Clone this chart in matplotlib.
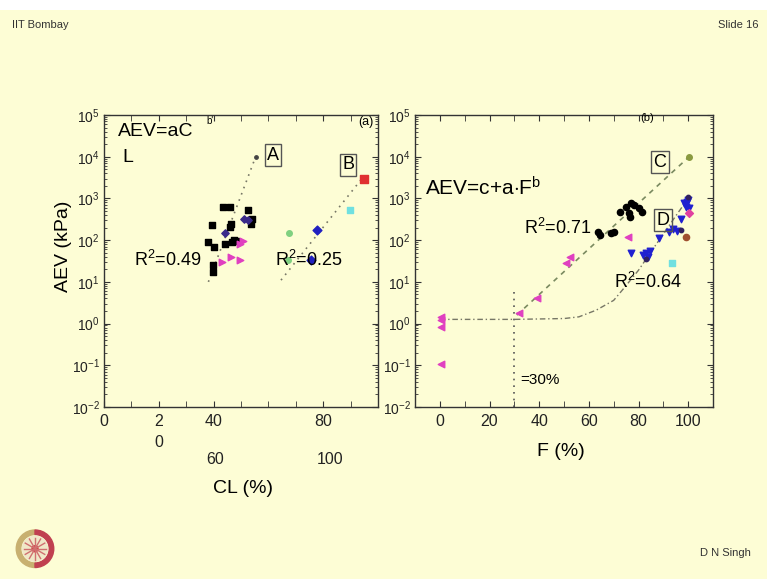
import matplotlib
matplotlib.use("Agg")
import matplotlib.pyplot as plt
from matplotlib.ticker import LogLocator, FixedLocator, NullFormatter
from matplotlib.patches import Rectangle, Circle, Wedge
import numpy as np

plt.rcParams['font.family'] = ['Liberation Sans', 'DejaVu Sans']
plt.rcParams['mathtext.fontset'] = 'custom'
plt.rcParams['mathtext.rm'] = 'Liberation Sans'
plt.rcParams['mathtext.it'] = 'Liberation Sans'
plt.rcParams['mathtext.bf'] = 'Liberation Sans'

BG = '#FDFDD5'

# ---------------- data: panel (a), AEV vs CL ----------------
a_black_cl = [39.4, 38.1, 40.0, 43.5, 46.0, 46.2, 46.0, 44.2, 46.8, 48.0, 52.5, 54.0, 53.7, 39.6, 39.6, 47.5]
a_black_aev = [230, 91, 69, 610, 610, 250, 210, 83, 91, 95, 520, 330, 250, 25, 17, 100]
a_purple_cl = [44.0, 51.0, 52.5]
a_purple_aev = [145, 330, 310]
a_magenta_cl = [43.0, 46.2, 49.6, 49.6, 50.9]
a_magenta_aev = [30, 40, 34, 83, 95]
a_end_cl = [55.3]
a_end_aev = [9800]
b_green_cl = [67.5, 67.0]
b_green_aev = [145, 34]
b_blue_cl = [75.7, 77.8]
b_blue_aev = [34, 175]
b_cyan_cl = [89.8]
b_cyan_aev = [520]
b_red_cl = [94.9]
b_red_aev = [3000]
fitA_cl = [38.1, 55.3]
fitA_aev = [10, 9800]
fitB_cl = [64.6, 94.5]
fitB_aev = [11, 3200]

# ---------------- data: panel (b), AEV vs F ----------------
c_black_f = [63.7, 64.6, 69.0, 70.2, 72.4, 75.0, 77.0, 78.3, 80.4, 81.6, 76.4, 76.0]
c_black_aev = [158, 132, 150, 160, 480, 630, 760, 700, 575, 480, 360, 440]
c_olive_f = [100.4]
c_olive_aev = [10000]
mag_f = [75.7, 51.0, 52.4, 39.0, 31.7, 0.4, 0.4, 0.4, 0.4]
mag_aev = [120, 28, 40, 4.2, 1.76, 1.4, 1.2, 0.83, 0.11]
d_blue_f = [77.0, 83.0, 83.7, 82.0, 84.5, 88.4, 92.4, 93.7, 95.5, 97.0, 99.0, 100.0, 99.5, 98.4, 100.4]
d_blue_aev = [48, 50, 40, 45, 55, 110, 158, 190, 170, 330, 630, 910, 800, 770, 600]
d_dark_f = [100.0, 97.0, 83.0]
d_dark_aev = [1100, 175, 36]
d_pink_f = [100.4]
d_pink_aev = [440]
d_brown_f = [99.0]
d_brown_aev = [120]
d_cyan_f = [93.5]
d_cyan_aev = [29]
fitC_f = [31.0, 100.4]
fitC_aev = [1.6, 10000]
fitD_f = [0, 30, 50, 56, 63, 70, 74, 80, 85, 90, 95, 100]
fitD_aev = [1.26, 1.26, 1.32, 1.45, 2.1, 3.6, 6.9, 19, 52, 140, 380, 1000]
f_thresh = [30, 30]
f_thresh_aev = [0.01, 6.0]

left_xticks = [0, 20, 40, 80]
left_xticklabels = ['0', '2\n0', '40', '80']
left_extra_labels = ['60', '100']
right_xticks = [0, 20, 40, 60, 80, 100]

fig = plt.figure(figsize=(7.67, 5.79), dpi=100)
fig.patch.set_facecolor(BG)
fig.add_artist(Rectangle((0, 1 - 10 / 579), 1, 10 / 579, transform=fig.transFigure,
                         facecolor='white', edgecolor='none'))

axL = fig.add_axes([104 / 767, 1 - 407 / 579, 274 / 767, 292 / 579])
axR = fig.add_axes([415 / 767, 1 - 407 / 579, 298 / 767, 292 / 579])

for ax in (axL, axR):
    ax.set_facecolor(BG)
    ax.set_yscale('log')
    ax.set_ylim(1e-2, 1e5)
    ax.yaxis.set_major_locator(LogLocator(base=10, numticks=10))
    ax.yaxis.set_minor_locator(LogLocator(base=10, subs=np.arange(2, 10), numticks=10))
    ax.yaxis.set_minor_formatter(NullFormatter())
    ax.tick_params(which='both', direction='in', top=True, right=True, colors='#333333',
                   labelcolor='#222222')
    ax.tick_params(which='major', length=4, width=0.8)
    ax.tick_params(which='minor', length=2, width=0.6)
    ax.tick_params(axis='y', labelsize=10, pad=3)
    ax.tick_params(axis='x', labelsize=11.5, pad=5)
    for s in ax.spines.values():
        s.set_color('#333333')
        s.set_linewidth(1.0)

# ---- left panel ----
axL.set_xlim(0, 100)
axL.xaxis.set_major_locator(FixedLocator(left_xticks))
axL.set_xticklabels(left_xticklabels, linespacing=1.5)
axL.xaxis.set_minor_locator(FixedLocator([10, 30, 50, 60, 70, 90]))
axL.tick_params(axis='x', which='minor', length=4)

axL.plot(fitA_cl, fitA_aev, ls=(0, (1, 3)), color='#777766', lw=1.2)
axL.plot(fitB_cl, fitB_aev, ls=(0, (1, 3)), color='#777766', lw=1.2)
axL.scatter(a_black_cl, a_black_aev, marker='s', s=18, color='black', zorder=3)
axL.scatter(a_purple_cl, a_purple_aev, marker='D', s=14, color='#3a2a8a', zorder=3)
axL.scatter(a_magenta_cl, a_magenta_aev, marker='>', s=22, color='#e040c0', zorder=3)
axL.scatter(a_end_cl, a_end_aev, marker='o', s=6, color='#444444', zorder=3)
axL.scatter(b_green_cl, b_green_aev, marker='o', s=16, color='#80d080', zorder=3)
axL.scatter(b_blue_cl, b_blue_aev, marker='D', s=20, color='#2020c0', zorder=3)
axL.scatter(b_cyan_cl, b_cyan_aev, marker='s', s=22, color='#70e0e0', zorder=3)
axL.scatter(b_red_cl, b_red_aev, marker='s', s=26, color='#e03030', zorder=3)

axL.set_ylabel('AEV (kPa)', fontsize=14)
axL.yaxis.set_label_coords(-0.117, 0.55)
axL.set_xlabel('CL (%)', fontsize=14)
axL.xaxis.set_label_coords(0.507, -0.25)
for lbl, xf in zip(left_extra_labels, [0.405, 0.825]):
    axL.text(xf, -0.18, lbl, transform=axL.transAxes, fontsize=11.5, ha='center', va='center',
             color='#222222')

axL.text(0.051, 0.942, 'AEV=aC', transform=axL.transAxes, fontsize=14, ha='left', va='center')
axL.text(0.372, 0.978, "b'", transform=axL.transAxes, fontsize=7, ha='left', va='center')
axL.text(0.066, 0.853, 'L', transform=axL.transAxes, fontsize=14, ha='left', va='center')
axL.text(0.985, 0.976, '(a)', transform=axL.transAxes, fontsize=9, ha='right', va='center')
box = dict(boxstyle='square,pad=0.12', facecolor='none', edgecolor='#555555', lw=1)
axL.text(0.617, 0.863, 'A', transform=axL.transAxes, fontsize=13, ha='center', va='center', bbox=box)
axL.text(0.891, 0.829, 'B', transform=axL.transAxes, fontsize=13, ha='center', va='center', bbox=box)
axL.text(0.234, 0.503, 'R$^2$=0.49', transform=axL.transAxes, fontsize=13, ha='center', va='center')
axL.text(0.748, 0.503, 'R$^2$=0.25', transform=axL.transAxes, fontsize=13, ha='center', va='center')

# ---- right panel ----
axR.set_xlim(-10, 110)
axR.xaxis.set_major_locator(FixedLocator(right_xticks))
axR.xaxis.set_minor_locator(FixedLocator([-10, 10, 30, 50, 70, 90, 110]))
axR.tick_params(axis='x', which='minor', length=4)

axR.plot(fitC_f, fitC_aev, ls=(0, (3, 3)), color='#7a8a60', lw=1.2)
axR.plot(fitD_f, fitD_aev, ls=(0, (4, 2, 1, 2)), color='#777766', lw=1.0)
axR.plot(f_thresh, f_thresh_aev, ls=(0, (1, 3)), color='#555555', lw=1.2)
axR.scatter(c_black_f, c_black_aev, marker='o', s=20, color='black', zorder=3)
axR.scatter(c_olive_f, c_olive_aev, marker='o', s=16, color='#8a9a40', zorder=3)
axR.scatter(mag_f, mag_aev, marker='<', s=22, color='#e040c0', zorder=3)
axR.scatter(d_blue_f, d_blue_aev, marker='v', s=22, color='#2020d0', zorder=3)
axR.scatter(d_dark_f, d_dark_aev, marker='o', s=10, color='#302060', zorder=3)
axR.scatter(d_pink_f, d_pink_aev, marker='D', s=16, color='#e040a0', zorder=3)
axR.scatter(d_brown_f, d_brown_aev, marker='o', s=20, color='#a05030', zorder=3)
axR.scatter(d_cyan_f, d_cyan_aev, marker='s', s=18, color='#70e0e0', zorder=3)

axR.set_xlabel('F (%)', fontsize=14)
axR.xaxis.set_label_coords(0.49, -0.123)
axR.text(0.034, 0.75, 'AEV=c+a$\\cdot$F$^b$', transform=axR.transAxes, fontsize=15, ha='left', va='center')
axR.text(0.779, 0.990, '(b)', transform=axR.transAxes, fontsize=8, ha='center', va='center')
axR.text(0.822, 0.839, 'C', transform=axR.transAxes, fontsize=13, ha='center', va='center', bbox=box)
axR.text(0.832, 0.640, 'D', transform=axR.transAxes, fontsize=13, ha='center', va='center', bbox=box)
axR.text(0.48, 0.613, 'R$^2$=0.71', transform=axR.transAxes, fontsize=13, ha='center', va='center')
axR.text(0.782, 0.428, 'R$^2$=0.64', transform=axR.transAxes, fontsize=13, ha='center', va='center')
axR.text(0.352, 0.092, '=30%', transform=axR.transAxes, fontsize=11, ha='left', va='center')

# ---- slide decorations ----
fig.text(12 / 767, 1 - 25 / 579, 'IIT Bombay', fontsize=8, ha='left', va='center', color='#333333')
fig.text(718 / 767, 1 - 25 / 579, 'Slide 16', fontsize=8, ha='left', va='center', color='#333333')
fig.text(700 / 767, 1 - 553 / 579, 'D N Singh', fontsize=8, ha='left', va='center', color='#333333')

logo_ax = fig.add_axes([10 / 767, 1 - 575 / 579, 50 / 767, 50 / 579])
logo_ax.set_xlim(-1, 1)
logo_ax.set_ylim(-1, 1)
logo_ax.set_aspect('equal')
logo_ax.axis('off')
logo_ax.add_patch(Wedge((0, 0.05), 0.75, 90, 270, width=0.18, color='#c8b070'))
logo_ax.add_patch(Wedge((0, 0.05), 0.75, -90, 90, width=0.18, color='#c04050'))
logo_ax.add_patch(Circle((0, 0.05), 0.5, color='#f0e8c8'))
for ang in np.linspace(0, np.pi, 6, endpoint=False):
    logo_ax.plot([-0.45 * np.cos(ang), 0.45 * np.cos(ang)],
                 [0.05 - 0.45 * np.sin(ang), 0.05 + 0.45 * np.sin(ang)], color='#d07070', lw=1)
logo_ax.add_patch(Circle((0, 0.05), 0.12, color='#d04040'))

fig.savefig('out.png', dpi=100, facecolor=fig.get_facecolor())
